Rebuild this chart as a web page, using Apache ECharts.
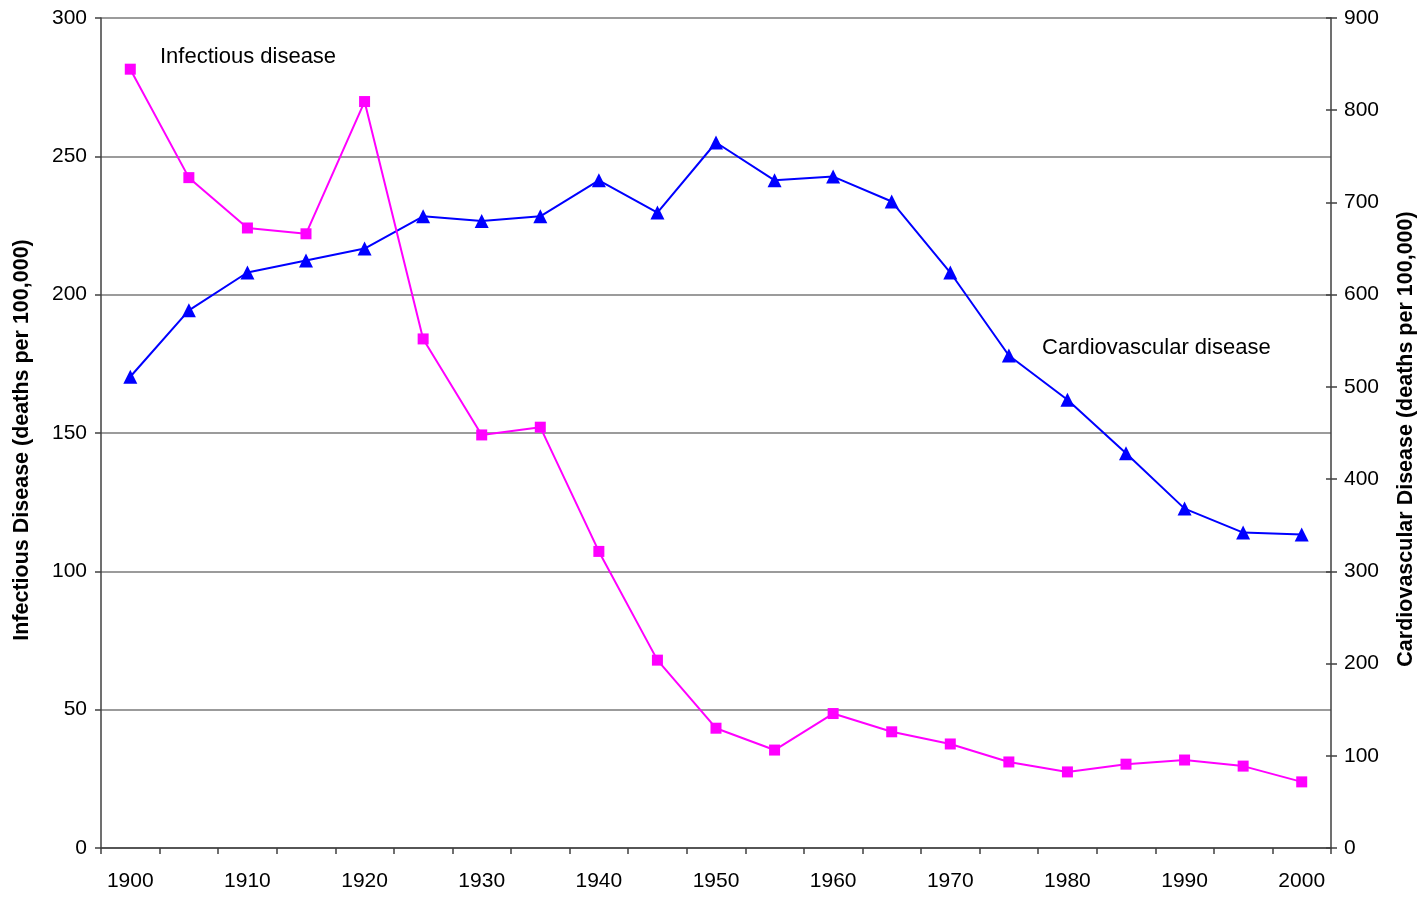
<!DOCTYPE html>
<html>
<head>
<meta charset="utf-8">
<script src="https://cdn.jsdelivr.net/npm/echarts@6/dist/echarts.min.js"></script>
<style>
html,body{margin:0;padding:0;background:#fff;}
#chart{width:1425px;height:897px;}
</style>
</head>
<body>
<div id="chart"></div>
<script>
// ---- data ----
var years = ['1900','1905','1910','1915','1920','1925','1930','1935','1940','1945','1950',
             '1955','1960','1965','1970','1975','1980','1985','1990','1995','2000'];
var infectious = [281.5, 242.3, 224.1, 222.0, 269.8, 184.0, 149.3, 152.1, 107.2, 67.9, 43.3,
                  35.4, 48.6, 42.0, 37.6, 31.1, 27.5, 30.3, 31.8, 29.6, 23.9];
var cardiovascular = [511, 583, 624, 637, 650, 685, 680, 685, 724, 689, 765,
                      724, 728, 701, 624, 534, 486, 428, 368, 342, 340];
var leftAxisName = 'Infectious Disease (deaths per 100,000)';
var rightAxisName = 'Cardiovascular Disease (deaths per 100,000)';
var infectiousLabel = 'Infectious disease';
var cardioLabel = 'Cardiovascular disease';

var FONT = '"Liberation Sans", Arial, sans-serif';
var axisColor = '#404040';
var chart = echarts.init(document.getElementById('chart'), null, {renderer: 'canvas'});
chart.setOption({
  animation: false,
  backgroundColor: '#fff',
  textStyle: {fontFamily: FONT},
  grid: {left: 101, right: 93, top: 18, bottom: 49, containLabel: false},
  xAxis: {
    type: 'category',
    data: years,
    boundaryGap: true,
    axisLine: {lineStyle: {color: axisColor, width: 1.5}},
    axisTick: {show: true, interval: 0, length: 6, alignWithLabel: false, lineStyle: {color: axisColor, width: 1.5}},
    axisLabel: {interval: 1, margin: 23, color: '#000', fontSize: 21, fontFamily: FONT},
    splitLine: {show: false}
  },
  yAxis: [
    {
      type: 'value', position: 'left', min: 0, max: 300, interval: 50,
      name: leftAxisName, nameLocation: 'middle', nameGap: 68,
      nameTextStyle: {fontSize: 21.5, fontWeight: 'bold', color: '#000', fontFamily: FONT, padding: [0, 14, 0, 0]},
      axisLine: {show: true, lineStyle: {color: axisColor, width: 1.5}},
      axisTick: {show: true, length: 6, lineStyle: {color: axisColor, width: 1.5}},
      axisLabel: {margin: 14, color: '#000', fontSize: 21, fontFamily: FONT},
      splitLine: {show: true, lineStyle: {color: '#7a7a7a', width: 1.5}}
    },
    {
      type: 'value', position: 'right', min: 0, max: 900, interval: 100,
      name: rightAxisName, nameLocation: 'middle', nameGap: 64,
      nameTextStyle: {fontSize: 21.5, fontWeight: 'bold', color: '#000', fontFamily: FONT, padding: [0, 12, 0, 0]},
      axisLine: {show: true, lineStyle: {color: axisColor, width: 1.5}},
      axisTick: {show: true, length: 6, lineStyle: {color: axisColor, width: 1.5}},
      axisLabel: {margin: 13, color: '#000', fontSize: 21, fontFamily: FONT},
      splitLine: {show: false}
    },
    {
      type: 'value', position: 'right', min: 0, max: 900, interval: 100,
      axisLine: {show: false},
      axisTick: {show: true, inside: true, length: 5, lineStyle: {color: axisColor, width: 1.5}},
      axisLabel: {show: false},
      splitLine: {show: false}
    }
  ],
  graphic: [
    {type: 'text', left: 160, top: 46, style: {text: infectiousLabel, font: '22px ' + FONT, fill: '#000'}},
    {type: 'text', left: 1042, top: 337, style: {text: cardioLabel, font: '22px ' + FONT, fill: '#000'}}
  ],
  series: [
    {
      name: 'Cardiovascular disease', type: 'line', yAxisIndex: 1, data: cardiovascular,
      symbol: 'triangle', symbolSize: 14, showAllSymbol: true,
      lineStyle: {color: '#0000FF', width: 2},
      itemStyle: {color: '#0000FF'},
      z: 3
    },
    {
      name: 'Infectious disease', type: 'line', yAxisIndex: 0, data: infectious,
      symbol: 'rect', symbolSize: 11, showAllSymbol: true,
      lineStyle: {color: '#FF00FF', width: 2},
      itemStyle: {color: '#FF00FF'},
      z: 4
    }
  ]
});
</script>
</body>
</html>
